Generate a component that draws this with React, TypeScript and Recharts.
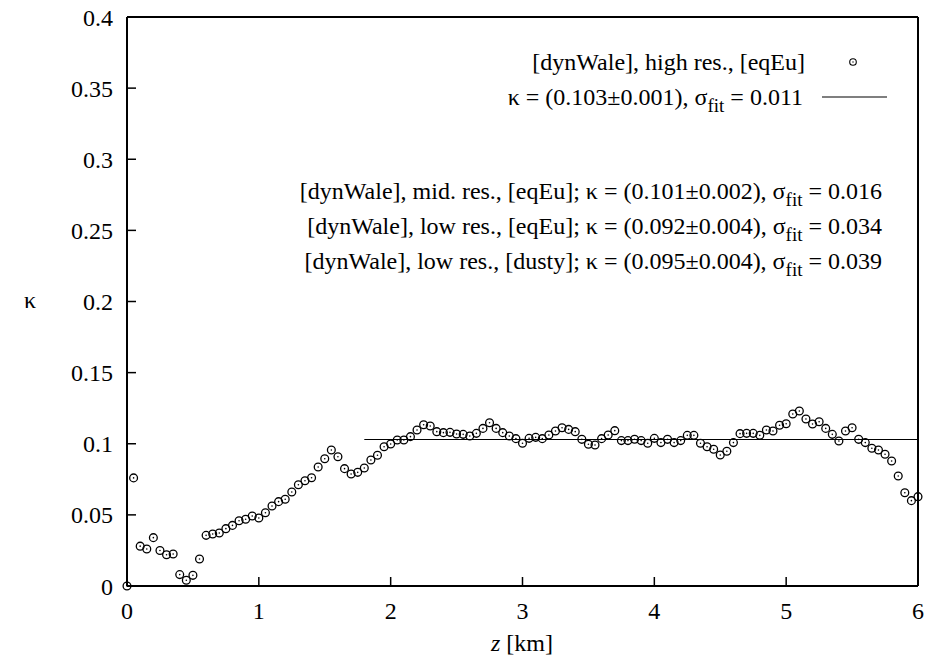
import React from 'react';
import { ScatterChart, Scatter, XAxis, YAxis, ReferenceLine } from 'recharts';

const zValues = [
  0, 0.05, 0.1, 0.15, 0.2, 0.25, 0.3, 0.35, 0.4, 0.45,
  0.5, 0.55, 0.6, 0.65, 0.7, 0.75, 0.8, 0.85, 0.9, 0.95,
  1.0, 1.05, 1.1, 1.15, 1.2, 1.25, 1.3, 1.35, 1.4, 1.45,
  1.5, 1.55, 1.6, 1.65, 1.7, 1.75, 1.8, 1.85, 1.9, 1.95,
  2.0, 2.05, 2.1, 2.15, 2.2, 2.25, 2.3, 2.35, 2.4, 2.45,
  2.5, 2.55, 2.6, 2.65, 2.7, 2.75, 2.8, 2.85, 2.9, 2.95,
  3.0, 3.05, 3.1, 3.15, 3.2, 3.25, 3.3, 3.35, 3.4, 3.45,
  3.5, 3.55, 3.6, 3.65, 3.7, 3.75, 3.8, 3.85, 3.9, 3.95,
  4.0, 4.05, 4.1, 4.15, 4.2, 4.25, 4.3, 4.35, 4.4, 4.45,
  4.5, 4.55, 4.6, 4.65, 4.7, 4.75, 4.8, 4.85, 4.9, 4.95,
  5.0, 5.05, 5.1, 5.15, 5.2, 5.25, 5.3, 5.35, 5.4, 5.45,
  5.5, 5.55, 5.6, 5.65, 5.7, 5.75, 5.8, 5.85, 5.9, 5.95,
  6.0,
];

const kappaValues = [
  0, 0.076, 0.028, 0.026, 0.034, 0.025, 0.022, 0.0225, 0.008, 0.004,
  0.0075, 0.019, 0.0356, 0.0366, 0.0373, 0.0403, 0.0426, 0.0459, 0.0469, 0.0492,
  0.0478, 0.0515, 0.0562, 0.0593, 0.061, 0.0661, 0.0712, 0.074, 0.0761, 0.0837,
  0.0895, 0.0956, 0.0909, 0.0825, 0.0787, 0.0799, 0.083, 0.0886, 0.0919, 0.0979,
  0.0998, 0.1026, 0.1026, 0.105, 0.1097, 0.1134, 0.1125, 0.1085, 0.1078, 0.108,
  0.1069, 0.1066, 0.1054, 0.1073, 0.1108, 0.1148, 0.1108, 0.1078, 0.1054, 0.1036,
  0.1003, 0.1038, 0.1045, 0.1036, 0.1062, 0.109, 0.1113, 0.1101, 0.1085, 0.1031,
  0.0996, 0.0991, 0.1036, 0.1062, 0.1092, 0.1022, 0.1022, 0.1032, 0.1022, 0.1003,
  0.1038, 0.1008, 0.1031, 0.1008, 0.1022, 0.1059, 0.1059, 0.1003, 0.0979, 0.0961,
  0.0921, 0.0947, 0.1008, 0.1071, 0.1073, 0.1073, 0.1059, 0.1097, 0.109, 0.113,
  0.1141, 0.1209, 0.123, 0.1174, 0.1139, 0.1155, 0.1108, 0.1066, 0.1019, 0.109,
  0.1113, 0.1031, 0.1008, 0.0968, 0.0956, 0.0926, 0.0879, 0.0773, 0.0656, 0.06,
  0.0628,
];

const fitZ = [1.8, 6];
const fitKappa = [0.103, 0.103];

const xTicks = [0, 1, 2, 3, 4, 5, 6];
const yTicks = [0, 0.05, 0.1, 0.15, 0.2, 0.25, 0.3, 0.35, 0.4];

const legendHigh = '[dynWale], high res., [eqEu]';
const legendFit = { pre: 'κ = (0.103±0.001), σ', post: ' = 0.011' };
const extraRuns = [
  { pre: '[dynWale], mid. res., [eqEu]; κ = (0.101±0.002), σ', post: ' = 0.016' },
  { pre: '[dynWale], low res., [eqEu]; κ = (0.092±0.004), σ', post: ' = 0.034' },
  { pre: '[dynWale], low res., [dusty]; κ = (0.095±0.004), σ', post: ' = 0.039' },
];

const points = zValues.map((z, i) => ({ z, kappa: kappaValues[i] }));
const fitData = fitZ.map((z, i) => ({ z, kappa: fitKappa[i] }));

const FONT = 'Liberation Serif';
const FS = 24;

const Ring = (props: any) => {
  const { cx, cy } = props;
  if (cx == null || cy == null) return <g />;
  return (
    <g>
      <circle cx={cx} cy={cy} r={3.9} fill="none" stroke="#000" strokeWidth={1.3} />
      <circle cx={cx} cy={cy} r={0.8} fill="#000" />
    </g>
  );
};

const NoShape = () => <g />;

const tickStyle = { fontSize: FS, fill: '#000', fontFamily: FONT };

const SubText = ({ x, y, pre, post }: { x: number; y: number; pre: string; post: string }) => (
  <text x={x} y={y} textAnchor="end" fontFamily={FONT} fontSize={FS} fill="#000">
    <tspan>{pre}</tspan>
    <tspan dy={7} fontSize={19}>fit</tspan>
    <tspan dy={-7}>{post}</tspan>
  </text>
);

export default function App() {
  return (
    <div style={{ position: 'absolute', left: 0, top: 0, width: 926, height: 659, background: '#fff' }}>
      <ScatterChart
        width={926}
        height={659}
        margin={{ top: 17, right: 8, bottom: 33, left: 67 }}
      >
        <XAxis
          dataKey="z"
          type="number"
          domain={[0, 6]}
          ticks={xTicks}
          height={40}
          tickSize={-9}
          tickMargin={25}
          tick={tickStyle}
          tickLine={{ stroke: '#000', strokeWidth: 1.5 }}
          axisLine={{ stroke: '#000', strokeWidth: 2 }}
        />
        <YAxis
          dataKey="kappa"
          type="number"
          domain={[0, 0.4]}
          ticks={yTicks}
          width={60}
          tickSize={-9}
          tickMargin={23}
          tick={tickStyle}
          tickLine={{ stroke: '#000', strokeWidth: 1.5 }}
          axisLine={{ stroke: '#000', strokeWidth: 2 }}
        />
        <ReferenceLine x={6} stroke="#000" strokeWidth={2} ifOverflow="visible" />
        <ReferenceLine y={0.4} stroke="#000" strokeWidth={2} ifOverflow="visible" />
        <Scatter
          data={fitData}
          dataKey="kappa"
          line={{ stroke: '#000', strokeWidth: 1.2 }}
          shape={NoShape}
          isAnimationActive={false}
        />
        <Scatter
          data={points}
          dataKey="kappa"
          shape={Ring}
          isAnimationActive={false}
        />
      </ScatterChart>
      <svg width={926} height={659} style={{ position: 'absolute', left: 0, top: 0 }}>
        <text x={805} y={70} textAnchor="end" fontFamily={FONT} fontSize={FS} fill="#000">
          {legendHigh}
        </text>
        <circle cx={853} cy={62} r={3.3} fill="none" stroke="#000" strokeWidth={1.1} />
        <circle cx={853} cy={62} r={0.7} fill="#000" />
        <SubText x={803} y={105} pre={legendFit.pre} post={legendFit.post} />
        <line x1={822} y1={97} x2={887} y2={97} stroke="#000" strokeWidth={1.2} />
        {extraRuns.map((r, i) => (
          <SubText key={i} x={882} y={199 + i * 35} pre={r.pre} post={r.post} />
        ))}
        <text x={30} y={308} textAnchor="middle" fontFamily={FONT} fontSize={FS} fill="#000">
          κ
        </text>
        <text x={522} y={651} textAnchor="middle" fontFamily={FONT} fontSize={FS} fill="#000">
          <tspan fontStyle="italic">z</tspan>
          <tspan> [km]</tspan>
        </text>
      </svg>
    </div>
  );
}
